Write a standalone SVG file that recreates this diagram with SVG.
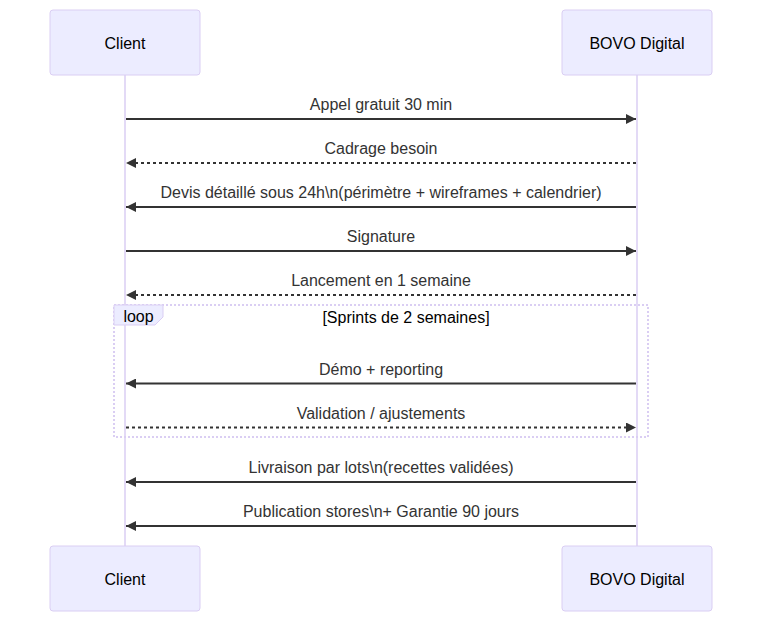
<svg xmlns="http://www.w3.org/2000/svg" width="762" height="622" viewBox="0 0 762 622">
<style>
.actor{fill:#ECECFF;stroke:#DACEF3;stroke-width:1}
.actorText{font-family:"Liberation Sans",Arial,sans-serif;font-size:16px;fill:#000;text-anchor:middle;dominant-baseline:central}
.lifeline{stroke:#DACEF3;stroke-width:1.5}
.msg{stroke:#333;stroke-width:2;fill:none}
.dash{stroke-dasharray:3,3}
.msgText{font-family:"Liberation Sans",Arial,sans-serif;font-size:16px;fill:#333;text-anchor:middle}
.loopLine{fill:none;stroke:#DACEF3;stroke-width:2;stroke-dasharray:2,2}
.labelBox{fill:#ECECFF;stroke:#DACEF3;stroke-width:1}
.loopText{font-family:"Liberation Sans",Arial,sans-serif;font-size:16px;fill:#000;text-anchor:middle}
</style>
<defs>
<marker id="arrow" viewBox="0 0 10 10" refX="10" refY="5" markerWidth="10" markerHeight="10" markerUnits="userSpaceOnUse" orient="auto">
<path d="M0,0 L10,5 L0,10 z" fill="#333"/>
</marker>
</defs>
<rect width="762" height="622" fill="#fff"/>
<g id="lifelines">
<line class="lifeline" x1="125" y1="75" x2="125" y2="546"/>
<line class="lifeline" x1="637" y1="75" x2="637" y2="546"/>
</g>
<g id="loop">
<rect class="loopLine" x="114" y="305" width="534" height="132"/>
<polygon class="labelBox" points="114,305 163,305 163,317 155,325 114,325"/>
<text class="loopText" x="138.5" y="322">loop</text>
<text class="loopText" x="406" y="323">[Sprints de 2 semaines]</text>
</g>
<g id="actor-client-top"><rect class="actor" x="50" y="10" width="150" height="65" rx="3"/><text class="actorText" x="125" y="43">Client</text></g>
<g id="actor-bovo-top"><rect class="actor" x="562" y="10" width="150" height="65" rx="3"/><text class="actorText" x="637" y="43">BOVO Digital</text></g>
<g id="actor-client-bottom"><rect class="actor" x="50" y="546" width="150" height="65" rx="3"/><text class="actorText" x="125" y="579">Client</text></g>
<g id="actor-bovo-bottom"><rect class="actor" x="562" y="546" width="150" height="65" rx="3"/><text class="actorText" x="637" y="579">BOVO Digital</text></g>
<g id="connectors">
<line class="msg" x1="126" y1="119" x2="636" y2="119" marker-end="url(#arrow)"/>
<text class="msgText" x="381" y="110">Appel gratuit 30 min</text>
<line class="msg dash" x1="636" y1="163" x2="126" y2="163" marker-end="url(#arrow)"/>
<text class="msgText" x="381" y="154">Cadrage besoin</text>
<line class="msg" x1="636" y1="207" x2="126" y2="207" marker-end="url(#arrow)"/>
<text class="msgText" x="381" y="198">Devis détaillé sous 24h\n(périmètre + wireframes + calendrier)</text>
<line class="msg" x1="126" y1="251" x2="636" y2="251" marker-end="url(#arrow)"/>
<text class="msgText" x="381" y="242">Signature</text>
<line class="msg dash" x1="636" y1="295" x2="126" y2="295" marker-end="url(#arrow)"/>
<text class="msgText" x="381" y="286">Lancement en 1 semaine</text>
<line class="msg" x1="636" y1="383.5" x2="126" y2="383.5" marker-end="url(#arrow)"/>
<text class="msgText" x="381" y="374.5">Démo + reporting</text>
<line class="msg dash" x1="126" y1="427.5" x2="636" y2="427.5" marker-end="url(#arrow)"/>
<text class="msgText" x="381" y="418.5">Validation / ajustements</text>
<line class="msg" x1="636" y1="482" x2="126" y2="482" marker-end="url(#arrow)"/>
<text class="msgText" x="381" y="473">Livraison par lots\n(recettes validées)</text>
<line class="msg" x1="636" y1="526" x2="126" y2="526" marker-end="url(#arrow)"/>
<text class="msgText" x="381" y="517">Publication stores\n+ Garantie 90 jours</text>
</g>
</svg>
